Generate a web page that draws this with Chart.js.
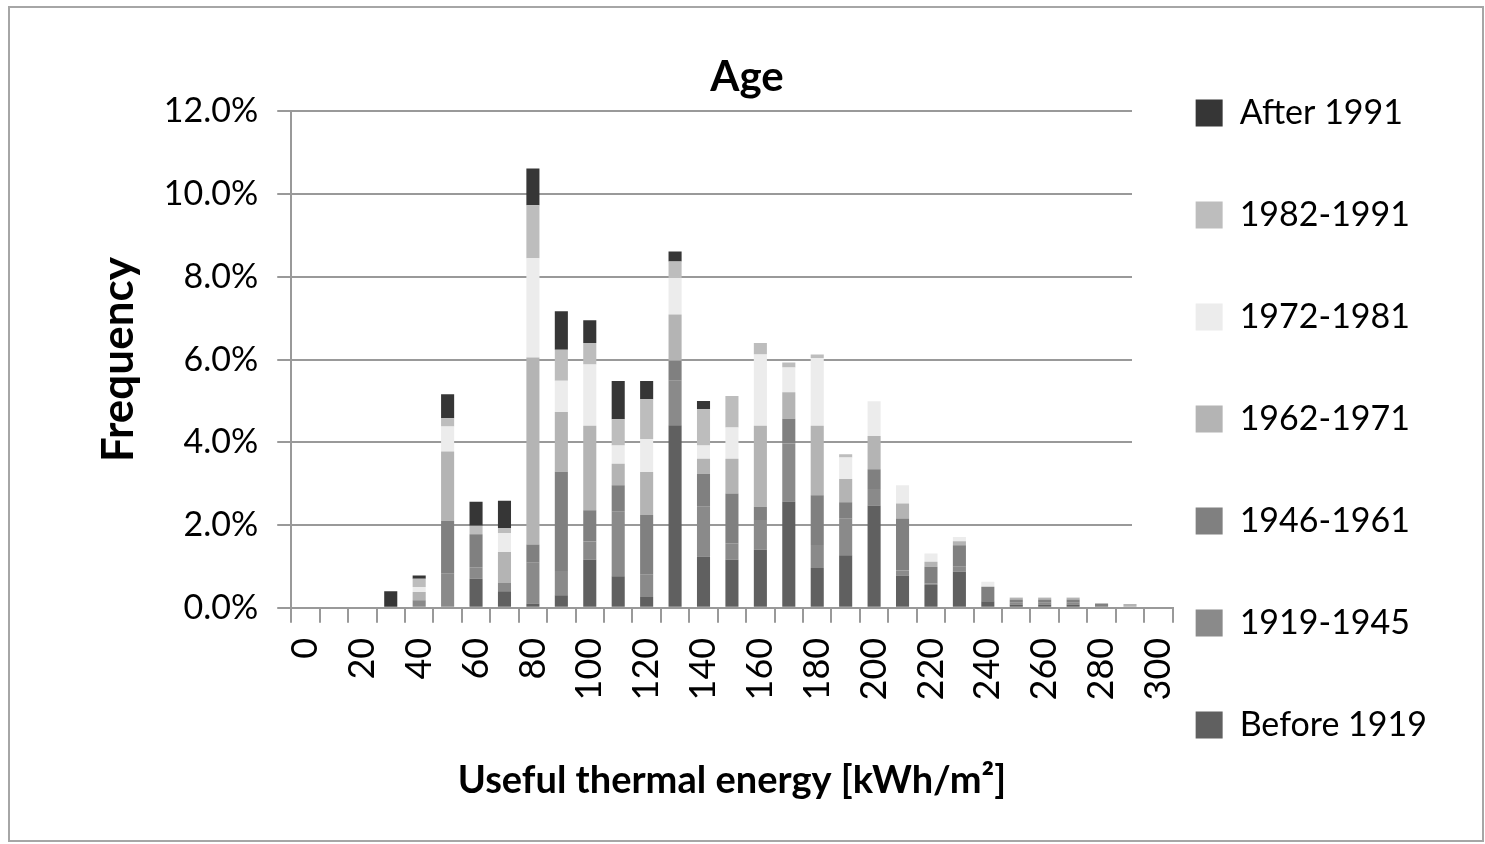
<!DOCTYPE html>
<html>
<head>
<meta charset="utf-8">
<script src="https://cdn.jsdelivr.net/npm/chart.js@4.4.0/dist/chart.umd.min.js"></script>
<style>
  html, body { margin: 0; padding: 0; background: #fff; }
  #frame {
    position: absolute; left: 8px; top: 6px;
    width: 1472px; height: 832px;
    border: 2px solid #a6a6a6;
  }
</style>
</head>
<body>
<div id="frame"><canvas id="myChart"></canvas></div>

<script>
  // energy classes, kWh/m2
  var categories = [0, 10, 20, 30, 40, 50, 60, 70, 80, 90, 100, 110, 120, 130, 140, 150,
                    160, 170, 180, 190, 200, 210, 220, 230, 240, 250, 260, 270, 280, 290, 300];

  // frequency in %, one value per class
  var before1919 = [0, 0, 0, 0, 0, 0, 0.70, 0.40, 0.10, 0.30, 1.16, 0.76, 0.26, 4.41, 1.24, 1.16,
                    1.40, 2.57, 0.96, 1.27, 2.47, 0.78, 0.55, 0.87, 0.16, 0.08, 0.08, 0.08, 0, 0, 0];
  var y1919_1945 = [0, 0, 0, 0, 0.18, 0.82, 0.28, 0.20, 0.99, 0.59, 0.44, 1.56, 0.54, 1.08, 1.20, 0.40,
                    0.72, 1.40, 0.56, 0.88, 0.40, 0.12, 0.04, 0.12, 0, 0.04, 0.04, 0.04, 0, 0, 0];
  var y1946_1961 = [0, 0, 0, 0, 0, 1.28, 0.80, 0, 0.44, 2.40, 0.76, 0.64, 1.44, 0.48, 0.80, 1.20,
                    0.32, 0.60, 1.20, 0.40, 0.48, 1.26, 0.40, 0.52, 0.35, 0.08, 0.08, 0.08, 0.10, 0, 0];
  var y1962_1971 = [0, 0, 0, 0, 0.20, 1.68, 0, 0.75, 4.52, 1.44, 2.04, 0.52, 1.04, 1.12, 0.36, 0.84,
                    1.96, 0.64, 1.68, 0.56, 0.80, 0.36, 0.12, 0.10, 0, 0.04, 0.04, 0.04, 0, 0.09, 0];
  var y1972_1981 = [0, 0, 0, 0, 0.12, 0.60, 0, 0.46, 2.40, 0.76, 1.48, 0.44, 0.80, 0.88, 0.32, 0.76,
                    1.72, 0.60, 1.64, 0.52, 0.84, 0.44, 0.20, 0.10, 0.12, 0.02, 0.02, 0.02, 0, 0, 0];
  var y1982_1991 = [0, 0, 0, 0, 0.20, 0.20, 0.20, 0.12, 1.28, 0.75, 0.52, 0.64, 0.96, 0.40, 0.88, 0.76,
                    0.28, 0.12, 0.08, 0.08, 0, 0, 0, 0, 0, 0, 0, 0, 0, 0, 0];
  var after1991 = [0, 0, 0, 0.40, 0.08, 0.58, 0.58, 0.66, 0.89, 0.93, 0.55, 0.92, 0.44, 0.24, 0.20, 0,
                   0, 0, 0, 0, 0, 0, 0, 0, 0, 0, 0, 0, 0, 0, 0];

  var yTicks = [0, 2, 4, 6, 8, 10, 12];

  var gridColor = '#999999';
  var font = 'Lato';

  // horizontal gridlines stop short of the axis end, like the original
  var partialGrid = {
    id: 'partialGrid',
    beforeDatasetsDraw: function (chart) {
      var ctx = chart.ctx, x = chart.scales.x, y = chart.scales.y;
      var right = x.getPixelForValue(29) + 2;
      ctx.save();
      ctx.strokeStyle = gridColor;
      ctx.lineWidth = 2;
      yTicks.forEach(function (v) {
        if (v === 0) return;
        var py = Math.round(y.getPixelForValue(v));
        ctx.beginPath();
        ctx.moveTo(x.left, py);
        ctx.lineTo(right, py);
        ctx.stroke();
      });
      ctx.restore();
    }
  };

  // pull the legend closer to the plot, re-center the title
  var nudge = {
    id: 'nudge',
    afterLayout: function (chart) {
      var lg = chart.legend;
      lg.left -= 45; lg.right -= 45;
      lg.top += 13; lg.bottom += 13;
      var tb = chart.titleBlock;
      tb.left -= 40; tb.right -= 40;
    }
  };

  var ctx = document.getElementById('myChart');
  var data = {
    labels: categories,
    datasets: [
      { label: 'Before 1919', data: before1919, backgroundColor: '#606060' },
      { label: '1919-1945', data: y1919_1945, backgroundColor: '#8a8a8a' },
      { label: '1946-1961', data: y1946_1961, backgroundColor: '#808080' },
      { label: '1962-1971', data: y1962_1971, backgroundColor: '#b4b4b4' },
      { label: '1972-1981', data: y1972_1981, backgroundColor: '#ececec' },
      { label: '1982-1991', data: y1982_1991, backgroundColor: '#bdbdbd' },
      { label: 'After 1991', data: after1991, backgroundColor: '#363636' },
    ],
  };

  var options = {
    responsive: true,
    maintainAspectRatio: false,
    animation: false,
    barPercentage: 0.46,
    categoryPercentage: 1,
    layout: { padding: { top: 0, left: 82, right: 0, bottom: 36 } },
    scales: {
      x: {
        stacked: true,
        grid: { drawOnChartArea: false, drawTicks: true, tickLength: 15, color: gridColor, lineWidth: 2 },
        border: { display: true, color: gridColor, width: 2 },
        ticks: {
          autoSkip: false,
          maxRotation: 90,
          minRotation: 90,
          padding: 15,
          color: '#000',
          font: { family: font, size: 36 },
          callback: function (value, index) {
            return index % 2 === 0 ? categories[index] : '';
          }
        },
        title: {
          display: true,
          text: 'Useful thermal energy [kWh/m²]',
          color: '#000',
          font: { family: font, size: 38, weight: 'bold' },
          padding: { top: 43, bottom: 0 }
        }
      },
      y: {
        stacked: true,
        min: 0,
        max: 12,
        grid: { drawOnChartArea: false, drawTicks: true, tickLength: 14, color: gridColor, lineWidth: 2 },
        border: { display: true, color: gridColor, width: 2 },
        afterBuildTicks: function (axis) {
          axis.ticks = yTicks.map(function (v) { return { value: v }; });
        },
        ticks: {
          padding: 19,
          color: '#000',
          font: { family: font, size: 34 },
          callback: function (v) { return v.toFixed(1) + '%'; }
        },
        title: {
          display: true,
          text: 'Frequency',
          color: '#000',
          font: { family: font, size: 44, weight: 'bold' },
          padding: { top: 0, bottom: 0 }
        }
      }
    },
    plugins: {
      title: {
        display: true,
        text: 'Age',
        color: '#000',
        font: { family: font, size: 42, weight: 'bold' },
        padding: { top: 44, bottom: 9 }
      },
      legend: {
        position: 'right',
        reverse: true,
        labels: {
          boxWidth: 27,
          boxHeight: 27,
          padding: 68,
          color: '#000',
          font: { family: font, size: 34 }
        }
      },
      tooltip: { enabled: false }
    },
  };

  var myChart = new Chart(ctx, {
    type: 'bar',
    data: data,
    options: options,
    plugins: [partialGrid, nudge],
  });
</script>
</body>
</html>
